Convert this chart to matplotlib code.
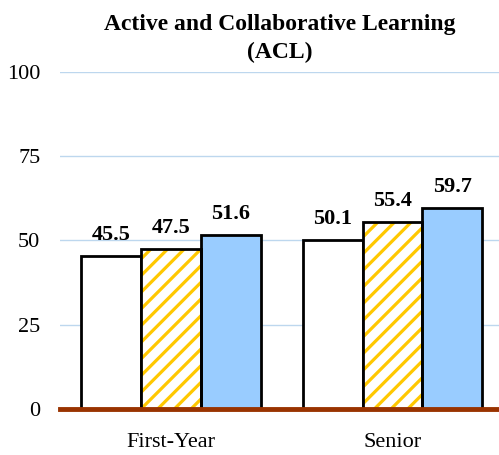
import numpy as np
import matplotlib.pyplot as plt

plt.rcParams['font.family'] = ['Liberation Serif', 'DejaVu Serif']
plt.rcParams['hatch.linewidth'] = 2.3

groups = ["First-Year", "Senior"]
series1 = [45.5, 50.1]
series2 = [47.5, 55.4]
series3 = [51.6, 59.7]
yticks = [0, 25, 50, 75, 100]

fig = plt.figure(figsize=(4.99, 4.55), dpi=100)
ax = fig.add_axes([0.12, 0.101, 0.88, 0.741])

x = np.arange(len(groups))
w = 0.27

ax.bar(x - w, series1, w, color="white", edgecolor="black", linewidth=2, zorder=3)
ax.bar(x, series2, w, color="white", edgecolor="#FFC800", hatch="//", linewidth=0, zorder=3)
ax.bar(x, series2, w, color="none", edgecolor="black", linewidth=2, zorder=4)
ax.bar(x + w, series3, w, color="#99CCFF", edgecolor="black", linewidth=2, zorder=3)

for off, vals in [(-w, series1), (0, series2), (w, series3)]:
    for xi, v in zip(x, vals):
        ax.text(xi + off, v + 3.3, f"{v:.1f}", ha="center", va="bottom",
                fontsize=16, fontweight="bold")

ax.set_xlim(-0.5, 1.48)
ax.set_ylim(0, 100)
ax.set_yticks(yticks)
ax.yaxis.grid(True, color="#BDD7EE", linewidth=1, zorder=0)
ax.axhline(0, color="#993300", linewidth=3.5, zorder=5, clip_on=False)
ax.set_xticks(x)
ax.set_xticklabels(groups)
ax.tick_params(axis="both", length=0, labelsize=16)
ax.tick_params(axis="y", pad=14)
ax.tick_params(axis="x", pad=17)
for s in ax.spines.values():
    s.set_visible(False)

ax.set_title("Active and Collaborative Learning\n(ACL)", fontsize=17,
             fontweight="bold", pad=10, linespacing=1.4)

fig.savefig("out.png", dpi=100)
